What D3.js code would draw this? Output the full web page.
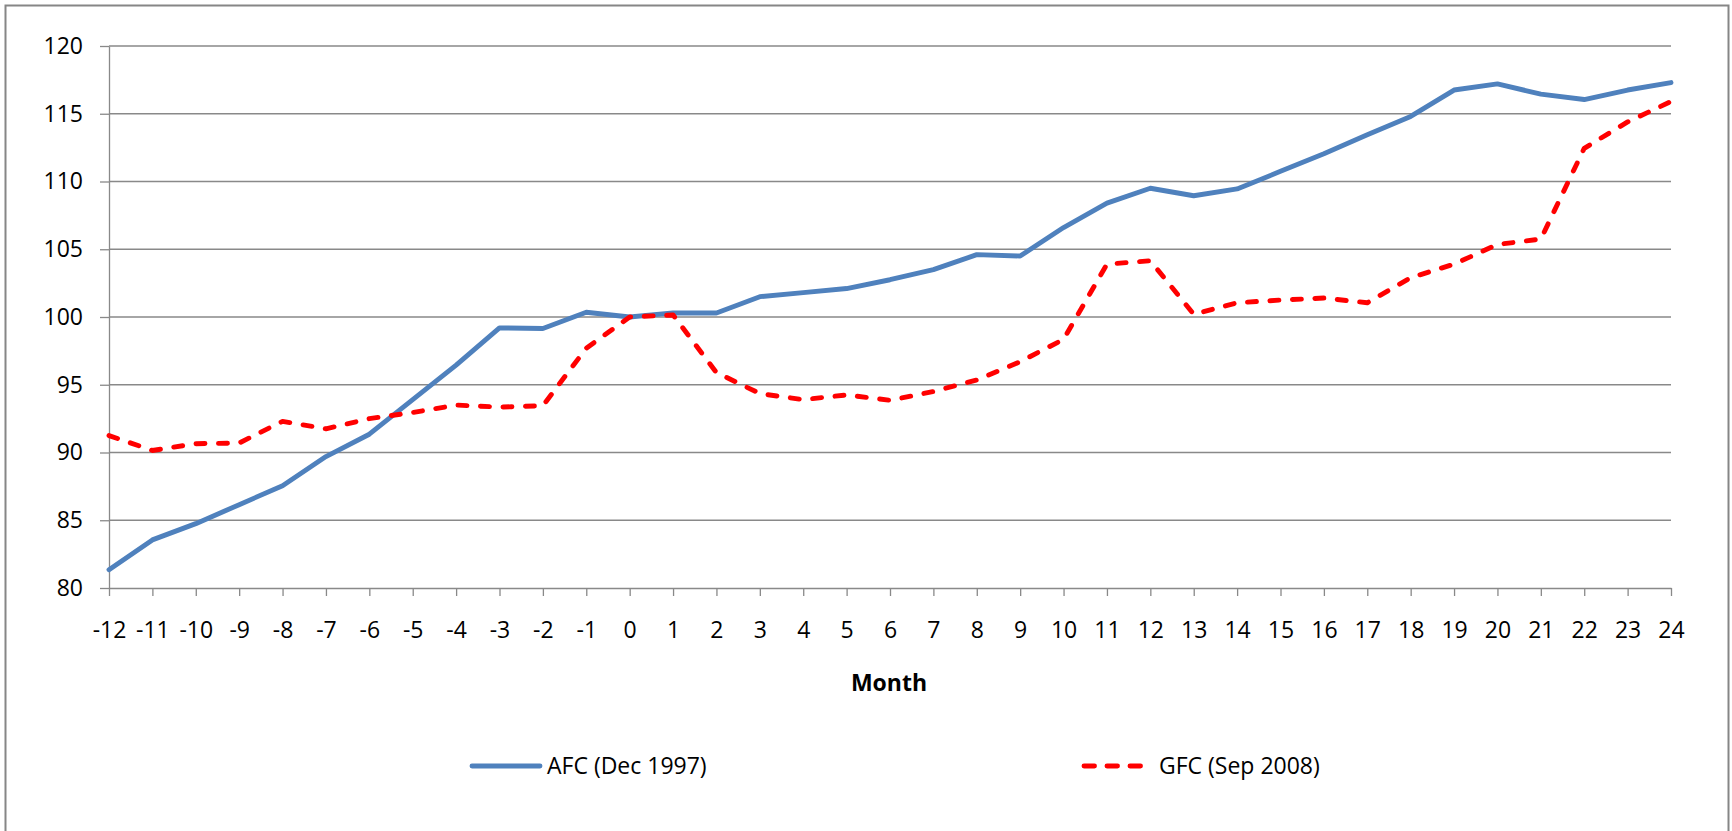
<!DOCTYPE html>
<html>
<head>
<meta charset="utf-8">
<script src="https://cdn.jsdelivr.net/npm/d3@7/dist/d3.min.js"></script>
<style>
  html, body { margin: 0; padding: 0; background: #ffffff; }
  svg { display: block; font-family: "Open Sans", "Noto Sans", sans-serif; }
</style>
</head>
<body>
<svg id="chart" width="1732" height="831"></svg>
<script>
// ---- data ----
const months = d3.range(-12, 25);
const afcLabel = "AFC (Dec 1997)";
const gfcLabel = "GFC (Sep 2008)";
const afcValues = [81.35, 83.55, 84.75, 86.15, 87.55, 89.7, 91.35, 93.9, 96.45, 99.2, 99.15, 100.35,
                   100.0, 100.3, 100.3, 101.5, 101.8, 102.1, 102.75, 103.5, 104.6, 104.5, 106.6, 108.4,
                   109.5, 108.95, 109.45, 110.75, 112.05, 113.45, 114.8, 116.75, 117.2, 116.45, 116.05, 116.75, 117.3];
const gfcValues = [91.25, 90.15, 90.65, 90.7, 92.3, 91.75, 92.5, 92.95, 93.5, 93.35, 93.45, 97.7,
                   100.0, 100.15, 95.9, 94.35, 93.9, 94.25, 93.85, 94.5, 95.35, 96.7, 98.35, 103.9,
                   104.15, 100.2, 101.05, 101.25, 101.4, 101.05, 102.9, 103.9, 105.35, 105.75, 112.45, 114.4, 115.9];
const yTicks = [80, 85, 90, 95, 100, 105, 110, 115, 120];
const xTitle = "Month";

// ---- layout ----
const svg = d3.select("#chart");
const plotLeft = 109, plotRight = 1671, plotTop = 46, plotBottom = 588;
const gridColor = "#898989";
const fontSize = "23px";
const fontFam = '"Open Sans", "Noto Sans", sans-serif';
const lineW = 4.9;

const x = d3.scaleLinear().domain([-12, 24]).range([plotLeft, plotRight]);
const y = d3.scaleLinear().domain([80, 120]).range([plotBottom, plotTop]);

// outer border (bottom edge off-canvas)
svg.append("rect")
  .attr("x", 5.5).attr("y", 5.5)
  .attr("width", 1723).attr("height", 900)
  .attr("fill", "none").attr("stroke", "#868686").attr("stroke-width", 2);

// gridlines
svg.append("g").selectAll("line")
  .data(yTicks.filter(v => v !== 80))
  .join("line")
  .attr("x1", plotLeft).attr("x2", plotRight)
  .attr("y1", d => y(d)).attr("y2", d => y(d))
  .attr("stroke", gridColor).attr("stroke-width", 1.3);

// y axis
const yAxis = svg.append("g")
  .attr("transform", `translate(${plotLeft},0)`)
  .call(d3.axisLeft(y).tickValues(yTicks).tickSize(9).tickPadding(17).tickSizeOuter(0));
yAxis.select(".domain").attr("stroke", gridColor).attr("stroke-width", 1.3);
yAxis.selectAll(".tick line").attr("stroke", gridColor).attr("stroke-width", 1.3);
yAxis.selectAll(".tick text")
  .attr("fill", "#000").style("font-size", fontSize)
  .style("font-family", fontFam);

// x axis
const xAxis = svg.append("g")
  .attr("transform", `translate(0,${plotBottom})`)
  .call(d3.axisBottom(x).tickValues(months).tickFormat(d3.format("d")).tickSize(8).tickSizeOuter(0));
xAxis.select(".domain").attr("stroke", gridColor).attr("stroke-width", 1.3);
xAxis.selectAll(".tick line").attr("stroke", gridColor).attr("stroke-width", 1.3);
xAxis.selectAll(".tick text")
  .attr("fill", "#000").attr("y", 50).attr("dy", "0")
  .style("font-size", fontSize)
  .style("font-family", fontFam)
  .text(d => d < 0 ? "-" + Math.abs(d) : String(d));

// x title
svg.append("text")
  .attr("x", 889).attr("y", 691)
  .attr("text-anchor", "middle")
  .style("font-size", fontSize).style("font-weight", "bold")
  .text(xTitle);

// lines
const line = d3.line().x((d, i) => x(months[i])).y(d => y(d));

svg.append("path")
  .datum(afcValues)
  .attr("d", line)
  .attr("fill", "none").attr("stroke", "#4F81BD")
  .attr("stroke-width", lineW).attr("stroke-linejoin", "round").attr("stroke-linecap", "round");

svg.append("path")
  .datum(gfcValues)
  .attr("d", line)
  .attr("fill", "none").attr("stroke", "#FF0000")
  .attr("stroke-width", lineW).attr("stroke-linejoin", "round").attr("stroke-linecap", "round")
  .attr("stroke-dasharray", "9,13.5");

// legend
const legY = 766;
svg.append("line")
  .attr("x1", 472).attr("x2", 540).attr("y1", legY).attr("y2", legY)
  .attr("stroke", "#4F81BD").attr("stroke-width", lineW).attr("stroke-linecap", "round");
svg.append("text")
  .attr("x", 547).attr("y", legY).attr("dy", "0.35em")
  .style("font-size", fontSize).text(afcLabel);

svg.append("line")
  .attr("x1", 1084).attr("x2", 1142).attr("y1", legY).attr("y2", legY)
  .attr("stroke", "#FF0000").attr("stroke-width", lineW).attr("stroke-linecap", "round")
  .attr("stroke-dasharray", "10.5,12.5");
svg.append("text")
  .attr("x", 1159).attr("y", legY).attr("dy", "0.35em")
  .style("font-size", fontSize).text(gfcLabel);
</script>
</body>
</html>
